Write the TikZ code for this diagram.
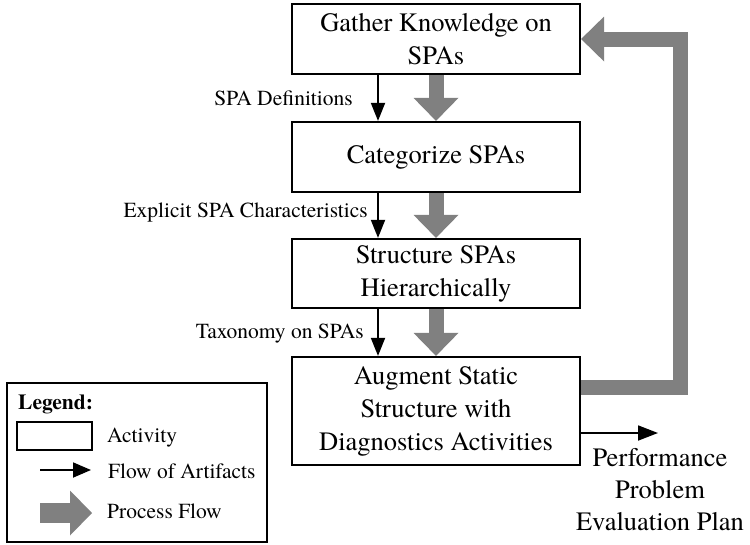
\documentclass[tikz,border=0pt]{standalone}
\usepackage{fontspec}
\setmainfont{TeX Gyre Termes}
\usetikzlibrary{arrows.meta}
\definecolor{flowgray}{RGB}{128,128,128}
\begin{document}
\begin{tikzpicture}[x=1pt,y=-1pt,
  activity/.style={draw, line width=2.2pt, minimum width=288pt, align=center,
    inner sep=0pt, font=\fontsize{26.5}{33}\selectfont},
  artifact/.style={line width=1.8pt, -{Triangle[width=14pt,length=18pt]}},
  procflow/.style={draw=flowgray, line width=15pt, miter limit=10,
    -{Triangle[width=45pt,length=23pt,line width=0pt,fill=flowgray]}},
  lbl/.style={anchor=east, inner sep=0pt, font=\fontsize{21.5}{25}\selectfont},
  legtext/.style={anchor=west, inner sep=0pt, font=\fontsize{21.5}{25}\selectfont}]
\useasboundingbox (0,0) rectangle (750,544);

% activities
\node[activity, minimum height=70pt] (b1) at (436,39)
  {Gather Knowledge on\\SPAs};
\node[activity, minimum height=70pt] (b2) at (436,157) {Categorize SPAs};
\node[activity, minimum height=69pt] (b3) at (436,273.5)
  {Structure SPAs\\Hierarchically};
\node[activity, minimum height=108pt] (b4) at (436,411)
  {Augment Static\\Structure with\\Diagnostics Activities};

% flow of artifacts
\draw[artifact] ([xshift=-58pt]b1.south) -- ([xshift=-58pt]b2.north);
\draw[artifact] ([xshift=-58pt]b2.south) -- ([xshift=-58pt]b3.north);
\draw[artifact] ([xshift=-58pt]b3.south) -- ([xshift=-58pt]b4.north);
\node[lbl] (l1) at (353,98) {SPA Definitions};
\node[lbl] (l2) at (368,212) {Explicit SPA Characteristics};
\node[lbl] (l3) at (364,334) {Taxonomy on SPAs};

% process flow
\draw[procflow] (b1.south) -- (b2.north);
\draw[procflow] (b2.south) -- (b3.north);
\draw[procflow] (b3.south) -- (b4.north);
\draw[procflow] ([yshift=24pt]b4.east) -| ([xshift=99pt]b1.east) -- (b1.east);

% result
\node[align=center, inner sep=0pt, font=\fontsize{26.5}{32}\selectfont]
  (plan) at (660,490) {Performance\\Problem\\Evaluation Plan};
\coordinate (planin) at (658,433);
\draw[line width=1.8pt, -{Triangle[width=15pt,length=20pt]}]
  ([yshift=-22pt]b4.east) -- (planin);

% legend
\node[draw, line width=2pt, minimum width=260pt, minimum height=159pt,
  inner sep=0pt] (legend) at (137,462.5) {};
\node[legtext, font=\fontsize{21.5}{25}\selectfont\bfseries] (lgtitle) at (18,404) {Legend:};
\node[draw, line width=2.2pt, minimum width=75pt, minimum height=28pt,
  inner sep=0pt] (lgact) at (54.5,436) {};
\node[legtext] (lgacttext) at (107,438) {Activity};
\coordinate (lgaf1) at (40,470);
\coordinate (lgaf2) at (91,470);
\draw[line width=1.8pt, -{Triangle[width=15pt,length=18pt]}] (lgaf1) -- (lgaf2);
\node[legtext] (lgaftext) at (108,471) {Flow of Artifacts};
\coordinate (lgpf1) at (40,513);
\coordinate (lgpf2) at (92,513);
\draw[draw=flowgray, line width=20pt,
  -{Triangle[width=45pt,length=22pt,line width=0pt,fill=flowgray]}] (lgpf1) -- (lgpf2);
\node[legtext] (lgpftext) at (107,511) {Process Flow};
\end{tikzpicture}
\end{document}
